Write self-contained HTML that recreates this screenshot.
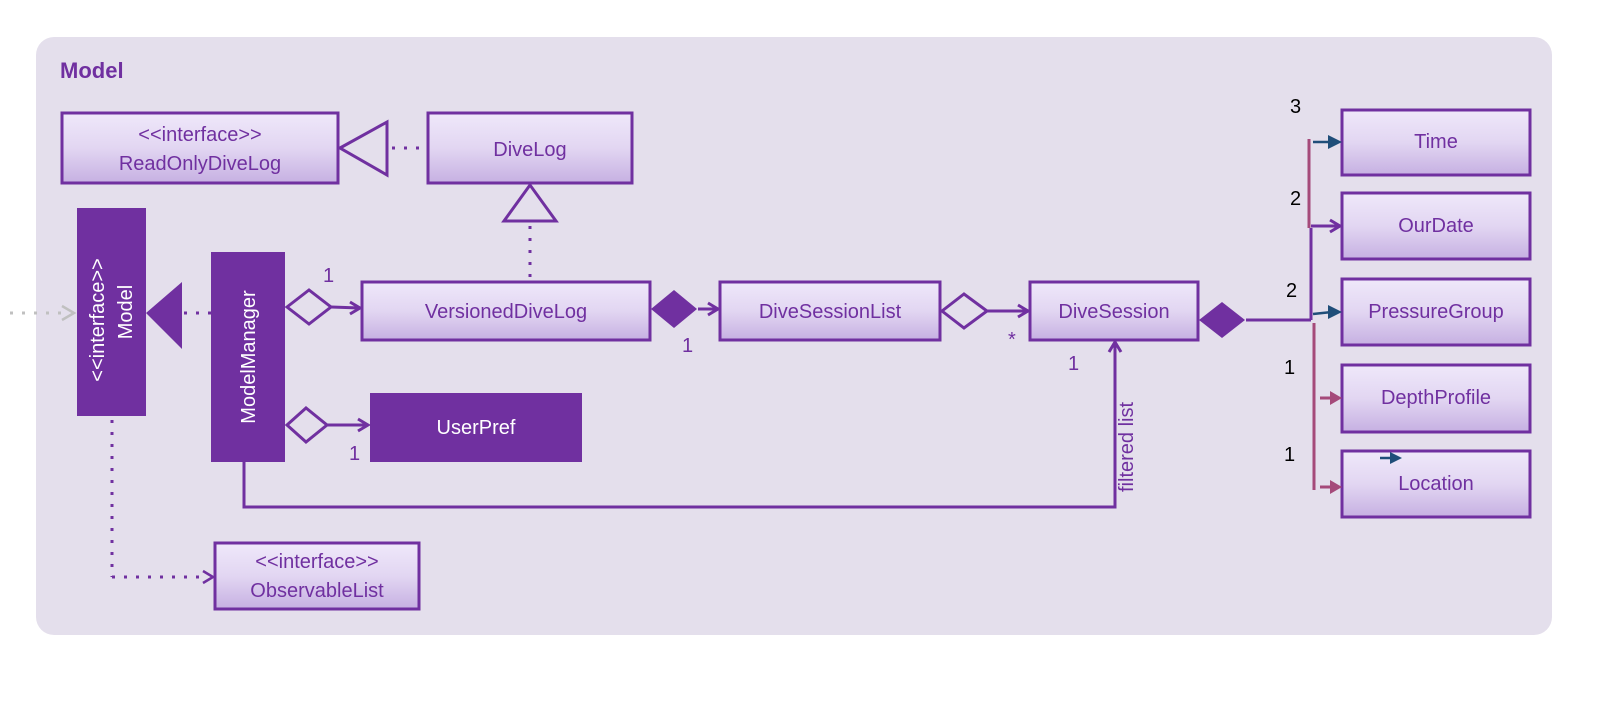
<!DOCTYPE html>
<html><head><meta charset="utf-8"><style>
html,body{margin:0;padding:0;background:#fff;}
svg{display:block;font-family:"Liberation Sans",sans-serif;}
</style></head><body>
<svg width="1611" height="720" viewBox="0 0 1611 720" xmlns="http://www.w3.org/2000/svg">
<defs>
<linearGradient id="g" x1="0" y1="0" x2="0" y2="1">
<stop offset="0" stop-color="#efe8fa"/><stop offset="0.5" stop-color="#e2d6f2"/><stop offset="1" stop-color="#c6b0e2"/>
</linearGradient>
</defs>
<rect x="36" y="37" width="1516" height="598" rx="18" fill="#e4dfec"/>
<text x="60" y="78" font-size="22" font-weight="bold" fill="#7030a0">Model</text>

<g stroke="#7030a0" stroke-width="3" fill="url(#g)">
<rect x="62" y="113" width="276" height="70"/>
<rect x="428" y="113" width="204" height="70"/>
<rect x="362" y="282" width="288" height="58"/>
<rect x="720" y="282" width="220" height="58"/>
<rect x="1030" y="282" width="168" height="58"/>
<rect x="215" y="543" width="204" height="66"/>
<rect x="1342" y="110" width="188" height="65"/>
<rect x="1342" y="193" width="188" height="66"/>
<rect x="1342" y="279" width="188" height="66"/>
<rect x="1342" y="365" width="188" height="67"/>
<rect x="1342" y="451" width="188" height="66"/>
</g>
<rect x="77" y="208" width="69" height="208" fill="#7030a0"/>
<rect x="211" y="252" width="74" height="210" fill="#7030a0"/>
<rect x="370" y="393" width="212" height="69" fill="#7030a0"/>

<g font-size="20" fill="#7030a0" text-anchor="middle">
<text x="200" y="141">&lt;&lt;interface&gt;&gt;</text>
<text x="200" y="170">ReadOnlyDiveLog</text>
<text x="530" y="156">DiveLog</text>
<text x="506" y="318">VersionedDiveLog</text>
<text x="830" y="318">DiveSessionList</text>
<text x="1114" y="318">DiveSession</text>
<text x="317" y="568">&lt;&lt;interface&gt;&gt;</text>
<text x="317" y="597">ObservableList</text>
<text x="1436" y="148">Time</text>
<text x="1436" y="232">OurDate</text>
<text x="1436" y="318">PressureGroup</text>
<text x="1436" y="404">DepthProfile</text>
<text x="1436" y="490">Location</text>
</g>
<g font-size="20" fill="#fff" text-anchor="middle">
<text x="476" y="434">UserPref</text>
<text transform="translate(104,320) rotate(-90)">&lt;&lt;interface&gt;&gt;</text>
<text transform="translate(132,312) rotate(-90)">Model</text>
<text transform="translate(255,357) rotate(-90)">ModelManager</text>
</g>

<!-- realization triangles -->
<g stroke="#7030a0" stroke-width="3" fill="none">
<polygon points="340,148 387,122 387,175" fill="#e4dfec"/>
<polygon points="530,185 504,221 556,221" fill="#e4dfec"/>
</g>
<g stroke="#7030a0" stroke-width="3" stroke-dasharray="3,9" fill="none">
<line x1="392" y1="148" x2="428" y2="148"/>
<line x1="530" y1="226" x2="530" y2="280"/>
<line x1="184" y1="313" x2="211" y2="313"/>
<line x1="112" y1="420" x2="112" y2="577"/>
<line x1="112" y1="577" x2="205" y2="577"/>
</g>
<polygon points="146,313 182,282 182,349" fill="#7030a0"/>
<line x1="10" y1="321" x2="70" y2="321" stroke="#c0c0c0" stroke-width="3" stroke-dasharray="3,9" transform="translate(0,-8)"/>
<path d="M62,306 L74,313 L62,320" stroke="#c0c0c0" stroke-width="2.5" fill="none"/>
<path d="M203,571 L213,577 L203,583" stroke="#7030a0" stroke-width="2.5" fill="none"/>

<!-- associations -->
<g stroke="#7030a0" stroke-width="3" fill="none">
<polygon points="287,307 309,290 331,307 309,324" fill="#e4dfec"/>
<line x1="331" y1="307" x2="360" y2="308"/>
<path d="M350,302 L360,308 L350,314"/>
<polygon points="287,425 306,408 327,425 306,442" fill="#e4dfec"/>
<line x1="327" y1="425" x2="368" y2="425"/>
<path d="M358,419 L368,425 L358,431"/>
<polygon points="942,311 964,294 987,311 964,328" fill="#e4dfec"/>
<line x1="987" y1="311" x2="1028" y2="311"/>
<path d="M1018,305 L1028,311 L1018,317"/>
<line x1="698" y1="309" x2="718" y2="309"/>
<path d="M708,303 L718,309 L708,315"/>
<polyline points="244,462 244,507 1115,507 1115,342"/>
<path d="M1109,352 L1115,342 L1121,352"/>
<line x1="1246" y1="320" x2="1311" y2="320"/>
<line x1="1311" y1="228" x2="1311" y2="320"/>
<line x1="1311" y1="226" x2="1340" y2="226"/>
</g>
<polygon points="651,309 674,290 697,309 674,328" fill="#7030a0"/>
<polygon points="1199,320 1222,302 1245,320 1222,338" fill="#7030a0"/>
<path d="M1330,220 L1340,226 L1330,232" stroke="#7030a0" stroke-width="3" fill="none"/>

<g stroke="#a54a7a" stroke-width="3" fill="none">
<line x1="1309" y1="139" x2="1309" y2="228"/>
<line x1="1314" y1="323" x2="1314" y2="490"/>
<line x1="1320" y1="398" x2="1335" y2="398"/>
<line x1="1320" y1="487" x2="1335" y2="487"/>
</g>
<polygon points="1342,398 1330,391 1330,405" fill="#a54a7a"/>
<polygon points="1342,487 1330,480 1330,494" fill="#a54a7a"/>
<g stroke="#1f4e79" stroke-width="2.5" fill="none">
<line x1="1313" y1="142" x2="1332" y2="142"/>
<line x1="1313" y1="314" x2="1332" y2="312"/>
<line x1="1380" y1="458" x2="1392" y2="458"/>
</g>
<polygon points="1342,142 1328,135 1328,149" fill="#1f4e79"/>
<polygon points="1342,312 1328,305 1328,319" fill="#1f4e79"/>
<polygon points="1402,458 1390,452 1390,464" fill="#1f4e79"/>

<g font-size="20" fill="#7030a0">
<text x="323" y="282">1</text>
<text x="349" y="460">1</text>
<text x="682" y="352">1</text>
<text x="1008" y="346">*</text>
<text x="1068" y="370">1</text>
<text transform="translate(1133,492) rotate(-90)">filtered list</text>
</g>
<g font-size="20" fill="#000">
<text x="1290" y="113">3</text>
<text x="1290" y="205">2</text>
<text x="1286" y="297">2</text>
<text x="1284" y="374">1</text>
<text x="1284" y="461">1</text>
</g>
</svg>
</body></html>
